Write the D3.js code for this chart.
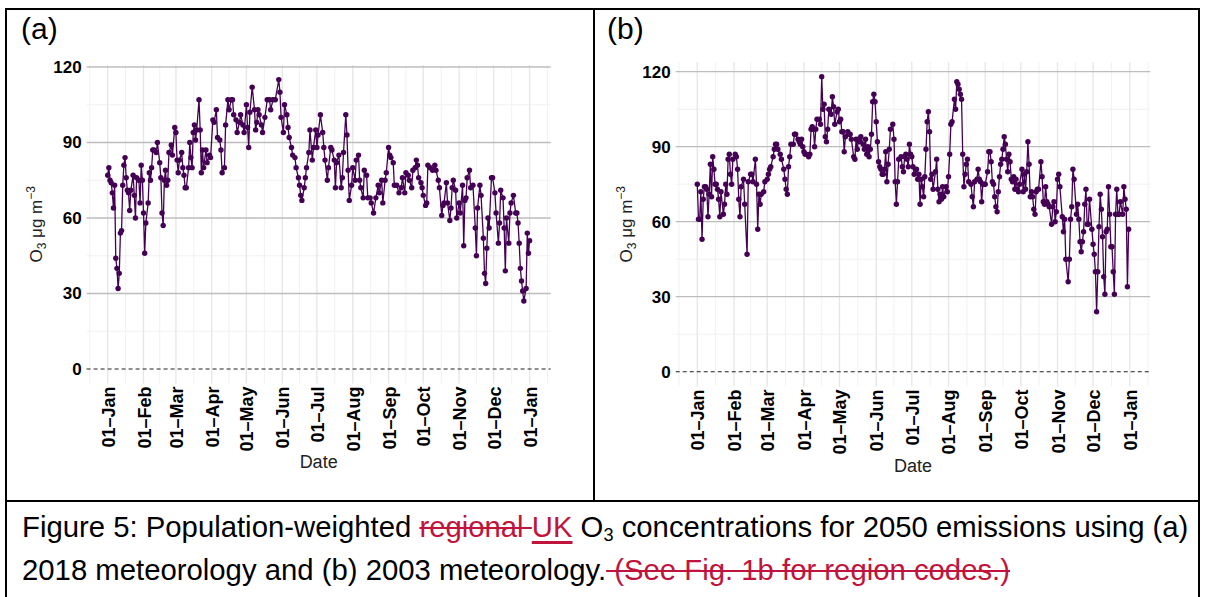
<!DOCTYPE html>
<html><head><meta charset="utf-8">
<script src="https://cdn.jsdelivr.net/npm/d3@7"></script>
<style>
html,body{margin:0;padding:0;background:#fff;}
body{width:1205px;height:597px;overflow:hidden;position:relative;font-family:"Liberation Sans",Arial,sans-serif;}
svg{position:absolute;left:0;top:0;}
#cap{position:absolute;left:22px;top:505px;font-size:29.3px;line-height:43px;color:#000;white-space:nowrap;}
.del{color:#c0143c;text-decoration:line-through;text-decoration-thickness:1.6px;}
.ins{color:#c0143c;text-decoration:underline;text-decoration-thickness:3px;text-underline-offset:4px;}
sub{font-size:0.62em;vertical-align:-0.22em;line-height:0;}
</style></head>
<body>
<svg id="chart" width="1205" height="597"></svg>
<div id="cap"></div>
<script>
// ---------------- data (day offset from 01-Jan, O3 in ug m-3) ----------------
const daysA = [0,1,2,3,4,5,6,7,8,9,10,11,12,13,14,15,16,17,18,19,20, 22,23,24,25, 27,28,29,30,31,32,33, 35,36,37,38,39,40, 42,43, 45,46,47,48,49,50,51,52,53, 55,56, 58,59,60,61,62, 64,65,66,67,68, 70,71,72,73,74,75,76,77, 79,80,81,82,83, 85,86, 88,89, 91,92, 94,95, 97,98,99, 101,102, 104,105, 107,108,109, 111,112, 114,115, 117,118, 120,121,122,123, 125, 127,128,129,130,131, 133,134, 136, 138, 140,141, 143, 145, 148,149,150, 152,153, 155,156,157, 159,160, 162,163, 165,166,167,168, 170,171,172, 174,175, 177,178, 180,181,182, 184, 186,187,188, 190,191, 193,194, 196,197,198, 200, 202,203,204, 206,207,208,209, 211,212, 214,215, 217,218,219, 221,222, 224,225, 227,228, 230, 232, 234,235, 237,238, 240,241, 243,244,245, 247,248, 250, 252, 254,255, 257,258, 260,261, 263,264, 266,267,268,269, 271,272,273, 275,276,277, 279, 281, 283,284, 286,287, 289,290,291, 293,294, 296,297,298,299, 301,302, 304,305, 307,308,309,310,311, 313,314, 316, 318,319,320, 322,323, 325,326,327,328,329,330, 332,333, 335,336, 338,339,340, 342,343,344,345, 347,348,349, 351, 353,354,355,356,357,358,359,360, 362,363,364,365];
const o3A = [77,80,75,74,70,64,73,44,40,32,38,54,55,73,81,84,76,71,70,63,71, 77,69,60,76, 75,66,81,75,62,46,58, 66,78,75,80,87,87, 86,90, 82,76,62,57,75,79,73,75,86, 89,85, 96,94,83,78,83, 86,80,77,72,72, 80,90,84,80,94,97,91,95, 107,95,78,87,80, 87,82, 85,84, 99,98, 103,92, 91,87,78, 80,97, 107,103, 107,107,101, 99,94, 98,101, 97,94, 105,96,88,102, 112, 103,95,98,103,101, 97,94, 100, 107, 107,103, 107, 107, 115,110,100, 94,105, 101,96,92, 88,85, 84,80, 76,73,69,67, 72,76,80, 86,95, 83,88, 95,88,93, 101, 94,88,83, 75,80, 88,87, 83,72,82, 85, 72,76,86, 101,93,79,67, 73,80, 75,83, 85,75,72, 68,79, 77,68, 68,66, 62, 68, 73,70, 75,66, 75,78, 88,85,84, 82,73, 73, 70, 72,76, 70,78, 77,75, 72,79, 80,83,81,76, 74,72,69, 65,66,81, 80, 79, 81,79, 75,72, 61,65,66, 74,66, 59,64,72,75, 71,60, 66,62, 73,49,67,68,76, 79,72, 73, 56,45,64, 73,69, 52,38,34,48,60,56, 76,76, 70,62, 50,58,71, 68,56,39,60, 50,62,66, 69, 62,62,58,50,40,35,31,27, 32,54,46,51];

const daysB = [0,1,2,3,4,5,6,7,8,9,10,11,12,13,14,15,16,17,18,19,20, 22,23,24,25,26,27,28,29,30, 32,33,34,35,36,37, 39,40, 42,43, 45,46,47, 49,50,51,52,53,54, 56,57, 59,60,61,62, 64,65,66,67,68, 70,71, 73,74,75,76,77,78,79, 81,82,83, 85,86,87,88,89,90,91,92, 94,95,96,97,98,99,100,101, 103,104,105,106,107,108,109,110,111, 113,114,115,116, 118,119,120,121,122,123,124,125, 127,128,129,130, 132,133,134,135,136,137,138, 140,141,142,143,144,145,146,147,148,149,150,151,152,153,154,155,156,157,158,159,160,161,162,163, 165,166,167,168,169,170, 172,173,174,175,176,177,178,179,180,181,182,183, 185,186,187,188,189,190,191,192,193,194,195,196,197,198,199, 201,202,203,204,205,206,207,208, 210,211,212,213,214,215, 217,218,219,220,221,222,223,224,225,226,227,228,229, 231,232,233,234, 236,237,238,239,240,241,242,243, 245,246,247,248,249,250,251,252,253,254,255,256,257,258,259,260,261,262,263,264,265,266,267,268,269,270,271,272, 274,275,276,277,278,279,280,281,282,283,284,285,286,287,288, 290,291,292,293,294,295,296,297, 299,300,301,302,303,304,305,306, 308,309,310,311, 313,314,315,316,317,318, 320,321,322,323,324,325,326,327,328,329,330,331, 333,334,335,336,337,338,339,340,341,342,343,344,345,346,347,348,349,350,351,352,353,354,355,356,357, 359,360,361,362,363,364];
const o3B = [75,61,61,72,53,69,74,74,73,62,71,83,70,86,81,75,75,73,69,62,72, 63,67,75,71,85,87,79,75,85, 87,86,81,69,62,74, 77,67, 47,76, 79,79,76, 85,75,57,71,67,71, 72,76, 77,79,81,82, 86,89,91,91,89, 87,85, 81,77,73,71,82,86,91, 91,95,95, 93,92,91,93,90,88,87,87, 86,87,97,98,97,90,97,101, 101,99,118,105,107,94,92,97,105, 103,110,106,99, 104,105,100,101,96,96,88,94, 96,95,95,93, 86,85,93,89,93,92,94, 91,89,93,87,90,86,89,95,108,111,108,100,92,84,82,81,79,79,81,88,76,83,89,97, 99,93,76,67,76,85, 86,82,80,86,87,85,82,91,87,86,82,79, 81,77,79,67,77,74,70,78,89,100,104,96,77,79,73, 80,85,73,68,71,69,74,70, 74,72,78,87,99,100, 109,105,116,115,113,111,109,87,74,79,83,85,76, 75,70,66,76, 77,81,77,76,68,75,75,75, 80,88,88,84,76,75,70,66,64,72,78,83,85,89,94,91,85,80,87,84,77,76,78,73,77,73,72,75, 81,72,79,73,80,92,83,70,72,70,65,63,72,73,73, 84,78,68,67,74,68,67,66, 59,66,68,60,64,77,79,74, 62,56,61,45, 36,45,61,66,81,77, 63,67,61,52,48,52,56,67,73,59,59,69, 57,51,47,40,24,40,58,71,65,54,38,31,56,57,74,63,50,50,40,31,63,73,63,63,68, 63,74,69,65,34,57];

const xTickLabels = ["01–Jan","01–Feb","01–Mar","01–Apr","01–May","01–Jun","01–Jul","01–Aug","01–Sep","01–Oct","01–Nov","01–Dec","01–Jan"];
const yTicks = [0,30,60,90,120];
const yMinorTicks = [15,45,75,105];
const panelLabels = ["(a)","(b)"];
const xTitle = "Date";

if (daysA.length !== o3A.length) throw new Error("A mismatch " + daysA.length + " vs " + o3A.length);
if (daysB.length !== o3B.length) throw new Error("B mismatch " + daysB.length + " vs " + o3B.length);

// ---------------- drawing ----------------
const FONT = "Liberation Sans, Arial, sans-serif";
const svg = d3.select("#chart");
const start = new Date(2018, 0, 1);
const end = new Date(2019, 0, 1);
const LINE = "#440154";

// table borders
const border = svg.append("g").attr("stroke", "#000").attr("stroke-width", 2).attr("fill", "none");
border.append("line").attr("x1", 5).attr("x2", 1200).attr("y1", 9).attr("y2", 9);
border.append("line").attr("x1", 6).attr("x2", 6).attr("y1", 8).attr("y2", 597);
border.append("line").attr("x1", 1199).attr("x2", 1199).attr("y1", 8).attr("y2", 597);
border.append("line").attr("x1", 5).attr("x2", 1200).attr("y1", 501).attr("y2", 501);
border.append("line").attr("x1", 594).attr("x2", 594).attr("y1", 8).attr("y2", 501);

function panel(cfg, days, vals, label) {
  const dates = days.map(d => d3.timeDay.offset(start, d));
  const x = d3.scaleTime().domain([start, end]).range([cfg.xJan, cfg.xJanNext]);
  const y = d3.scaleLinear().domain([0, 120]).range([cfg.y0, cfg.y120]);
  const dMin = d3.min(dates), dMax = d3.max(dates);
  const span = dMax - dMin;
  const left = x(new Date(+dMin - 0.05 * span));
  const right = x(new Date(+dMax + 0.05 * span));
  const vMax = d3.max(vals);
  const ex = 0.05 * vMax;
  const top = y(vMax + ex), bottom = y(-ex);

  const g = svg.append("g");
  const majors = d3.timeMonth.range(start, d3.timeDay.offset(end, 1));
  const minors = [];
  for (let i = 0; i < majors.length - 1; i++) minors.push(new Date((+majors[i] + +majors[i + 1]) / 2));
  minors.push(new Date(+majors[0] - (majors[1] - majors[0]) / 2));
  minors.push(new Date(+majors[majors.length - 1] + (majors[majors.length - 1] - majors[majors.length - 2]) / 2));

  // minor grid
  g.selectAll(".vmin").data(minors.filter(d => x(d) >= left && x(d) <= right)).join("line")
    .attr("x1", d => x(d)).attr("x2", d => x(d)).attr("y1", top).attr("y2", bottom)
    .attr("stroke", "#f1f1f1").attr("stroke-width", 1);
  g.selectAll(".hmin").data(yMinorTicks).join("line")
    .attr("x1", left).attr("x2", right).attr("y1", d => y(d)).attr("y2", d => y(d))
    .attr("stroke", "#f1f1f1").attr("stroke-width", 1);
  // major grid
  g.selectAll(".vmaj").data(majors).join("line")
    .attr("x1", d => x(d)).attr("x2", d => x(d)).attr("y1", top).attr("y2", bottom)
    .attr("stroke", "#e6e6e6").attr("stroke-width", 1.3);
  g.selectAll(".hmaj").data(yTicks.filter(d => d !== 0)).join("line")
    .attr("x1", left).attr("x2", right).attr("y1", d => y(d)).attr("y2", d => y(d))
    .attr("stroke", "#bdbdbd").attr("stroke-width", 1.3);
  // zero dashed line
  g.append("line").attr("x1", left).attr("x2", right).attr("y1", y(0)).attr("y2", y(0))
    .attr("stroke", "#222").attr("stroke-width", 1.1).attr("stroke-dasharray", "4,3");

  // series
  const pts = dates.map((d, i) => [d, vals[i]]);
  g.append("path").datum(pts)
    .attr("d", d3.line().x(d => x(d[0])).y(d => y(d[1])))
    .attr("fill", "none").attr("stroke", LINE).attr("stroke-width", 1.3).attr("stroke-linejoin", "round");
  g.selectAll(".pt").data(pts).join("circle")
    .attr("cx", d => x(d[0])).attr("cy", d => y(d[1])).attr("r", 2.7).attr("fill", LINE);

  // y axis
  const ya = g.append("g").attr("transform", `translate(${left},0)`)
    .call(d3.axisLeft(y).tickValues(yTicks).tickSize(0).tickPadding(5).tickFormat(d3.format("d")));
  ya.select(".domain").remove();
  ya.selectAll("text").attr("font-family", FONT)
    .attr("font-size", 17).attr("font-weight", "bold").attr("fill", "#000");

  // x axis
  const xa = g.append("g").attr("transform", `translate(0,${bottom})`)
    .call(d3.axisBottom(x).tickValues(majors).tickSize(0).tickFormat((d, i) => xTickLabels[i]));
  xa.select(".domain").remove();
  xa.selectAll("text").attr("font-family", FONT)
    .attr("font-size", 18).attr("font-weight", "bold").attr("fill", "#000")
    .attr("transform", "rotate(-90)").attr("text-anchor", "end")
    .attr("x", -3).attr("y", 0).attr("dy", "0.36em");

  // titles
  g.append("text").attr("x", (left + right) / 2).attr("y", cfg.dateY).attr("text-anchor", "middle")
    .attr("font-family", FONT).attr("font-size", 18).attr("fill", "#222").text(xTitle);
  const yt = g.append("text").attr("transform", `translate(${cfg.yTitleX},${(top + bottom) / 2}) rotate(-90)`)
    .attr("text-anchor", "middle").attr("font-family", FONT)
    .attr("font-size", 17).attr("fill", "#222");
  yt.append("tspan").text("O");
  yt.append("tspan").attr("font-size", 12).attr("dy", 4).text("3");
  yt.append("tspan").attr("dy", -4).text(" μg m");
  yt.append("tspan").attr("font-size", 12).attr("dy", -7).text("−3");

  svg.append("text").attr("x", cfg.labelX).attr("y", 39)
    .attr("font-family", FONT).attr("font-size", 30).attr("fill", "#000").text(label);
}

panel({xJan: 107.7, xJanNext: 529.6, y0: 369, y120: 67, dateY: 468, yTitleX: 42, labelX: 21}, daysA, o3A, panelLabels[0]);
panel({xJan: 697.3, xJanNext: 1129.8, y0: 371.7, y120: 71.7, dateY: 472, yTitleX: 632, labelX: 607}, daysB, o3B, panelLabels[1]);

// caption
const capLine1 = ["Figure 5: Population-weighted ", "regional ", "UK", " O", "3", " concentrations for 2050 emissions using (a)"];
const capLine2 = ["2018 meteorology and (b) 2003 meteorology.", " (See Fig. 1b for region codes.)"];
const cap = d3.select("#cap");
const l1 = cap.append("div");
l1.append("span").text(capLine1[0]);
l1.append("span").attr("class", "del").text(capLine1[1]);
l1.append("span").attr("class", "ins").text(capLine1[2]);
l1.append("span").text(capLine1[3]);
l1.append("sub").text(capLine1[4]);
l1.append("span").text(capLine1[5]);
const l2 = cap.append("div");
l2.append("span").text(capLine2[0]);
l2.append("span").attr("class", "del").text(capLine2[1]);
</script>
</body></html>
